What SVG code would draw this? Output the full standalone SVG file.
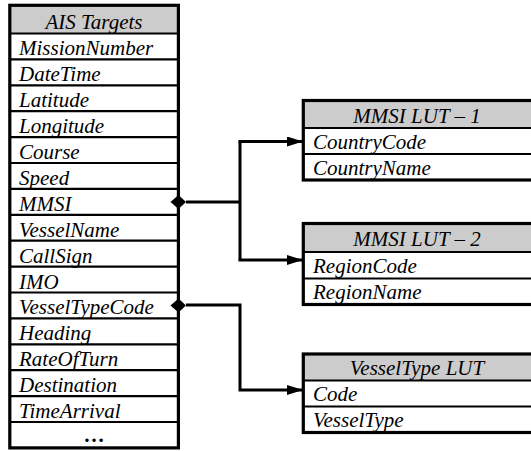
<svg xmlns="http://www.w3.org/2000/svg" width="531" height="451" viewBox="0 0 531 451">
<defs>
<style>
.hdr{fill:#cccccc;stroke:none}
.box{fill:none;stroke:#000;stroke-width:3.2;stroke-linecap:square}
.row{stroke:#000;stroke-width:2.2}
.t{font-family:"Liberation Serif","Times New Roman",serif;font-style:italic;font-size:21px;fill:#000}
.c{text-anchor:middle}
.conn{fill:none;stroke:#000;stroke-width:3}
</style>
<marker id="arr" markerWidth="16" markerHeight="10" refX="16" refY="5" orient="auto" markerUnits="userSpaceOnUse">
<path d="M0,0 L16,5 L0,10 Z" fill="#000"/>
</marker>
</defs>
<rect width="531" height="451" fill="#fff"/>

<g id="ais-targets">
<rect class="hdr" x="10" y="5" width="168" height="28.5"/>
<g class="row">
<line x1="10" y1="33.5" x2="178" y2="33.5"/>
<line x1="10" y1="59.4" x2="178" y2="59.4"/>
<line x1="10" y1="85.3" x2="178" y2="85.3"/>
<line x1="10" y1="111.2" x2="178" y2="111.2"/>
<line x1="10" y1="137.1" x2="178" y2="137.1"/>
<line x1="10" y1="163" x2="178" y2="163"/>
<line x1="10" y1="188.9" x2="178" y2="188.9"/>
<line x1="10" y1="214.8" x2="178" y2="214.8"/>
<line x1="10" y1="240.7" x2="178" y2="240.7"/>
<line x1="10" y1="266.6" x2="178" y2="266.6"/>
<line x1="10" y1="292.5" x2="178" y2="292.5"/>
<line x1="10" y1="318.4" x2="178" y2="318.4"/>
<line x1="10" y1="344.3" x2="178" y2="344.3"/>
<line x1="10" y1="370.2" x2="178" y2="370.2"/>
<line x1="10" y1="396.1" x2="178" y2="396.1"/>
<line x1="10" y1="422" x2="178" y2="422"/>
</g>
<rect class="box" x="9.8" y="5.3" width="168.6" height="442.6"/>
<text class="t c" x="94" y="28.5">AIS Targets</text>
<text class="t" x="19" y="55.4">MissionNumber</text>
<text class="t" x="19" y="81.3">DateTime</text>
<text class="t" x="19" y="107.2">Latitude</text>
<text class="t" x="19" y="133.1">Longitude</text>
<text class="t" x="19" y="159">Course</text>
<text class="t" x="19" y="184.9">Speed</text>
<text class="t" x="19" y="210.8">MMSI</text>
<text class="t" x="19" y="236.7">VesselName</text>
<text class="t" x="19" y="262.6">CallSign</text>
<text class="t" x="19" y="288.5">IMO</text>
<text class="t" x="19" y="314.4">VesselTypeCode</text>
<text class="t" x="19" y="340.3">Heading</text>
<text class="t" x="19" y="366.2">RateOfTurn</text>
<text class="t" x="19" y="392.1">Destination</text>
<text class="t" x="19" y="418">TimeArrival</text>
<text class="t c" x="94" y="442" style="font-style:normal;font-weight:bold">…</text>
</g>

<g id="mmsi-lut-1">
<rect class="hdr" x="303" y="100.5" width="240" height="27.5"/>
<line class="row" x1="303" y1="128" x2="543" y2="128"/>
<line class="row" x1="303" y1="154" x2="543" y2="154"/>
<rect class="box" x="303.3" y="100.5" width="240" height="79.5"/>
<text class="t c" x="417" y="122.5">MMSI LUT – 1</text>
<text class="t" x="313" y="148.5">CountryCode</text>
<text class="t" x="313" y="174.5">CountryName</text>
</g>

<g id="mmsi-lut-2">
<rect class="hdr" x="303" y="223.5" width="240" height="28.5"/>
<line class="row" x1="303" y1="252" x2="543" y2="252"/>
<line class="row" x1="303" y1="278.5" x2="543" y2="278.5"/>
<rect class="box" x="303.3" y="223.5" width="240" height="81"/>
<text class="t c" x="417" y="246">MMSI LUT – 2</text>
<text class="t" x="313" y="272.5">RegionCode</text>
<text class="t" x="313" y="299">RegionName</text>
</g>

<g id="vesseltype-lut">
<rect class="hdr" x="303" y="354" width="240" height="26.5"/>
<line class="row" x1="303" y1="380.5" x2="543" y2="380.5"/>
<line class="row" x1="303" y1="406.5" x2="543" y2="406.5"/>
<rect class="box" x="303.3" y="354" width="240" height="78.5"/>
<text class="t c" x="417" y="375">VesselType LUT</text>
<text class="t" x="313" y="401">Code</text>
<text class="t" x="313" y="427">VesselType</text>
</g>

<g id="connectors">
<path d="M170.5,202 L178.5,195 L186,202 L178.5,209 Z" fill="#000"/>
<path class="conn" d="M186,202 H240"/>
<path class="conn" d="M240,141.5 V260"/>
<path class="conn" d="M238.5,141.5 H303" marker-end="url(#arr)"/>
<path class="conn" d="M238.5,260 H303" marker-end="url(#arr)"/>
<path d="M170.5,305.4 L178.5,298.4 L186,305.4 L178.5,312.4 Z" fill="#000"/>
<path class="conn" d="M186,305 H240 V390 H303" marker-end="url(#arr)"/>
</g>
</svg>
